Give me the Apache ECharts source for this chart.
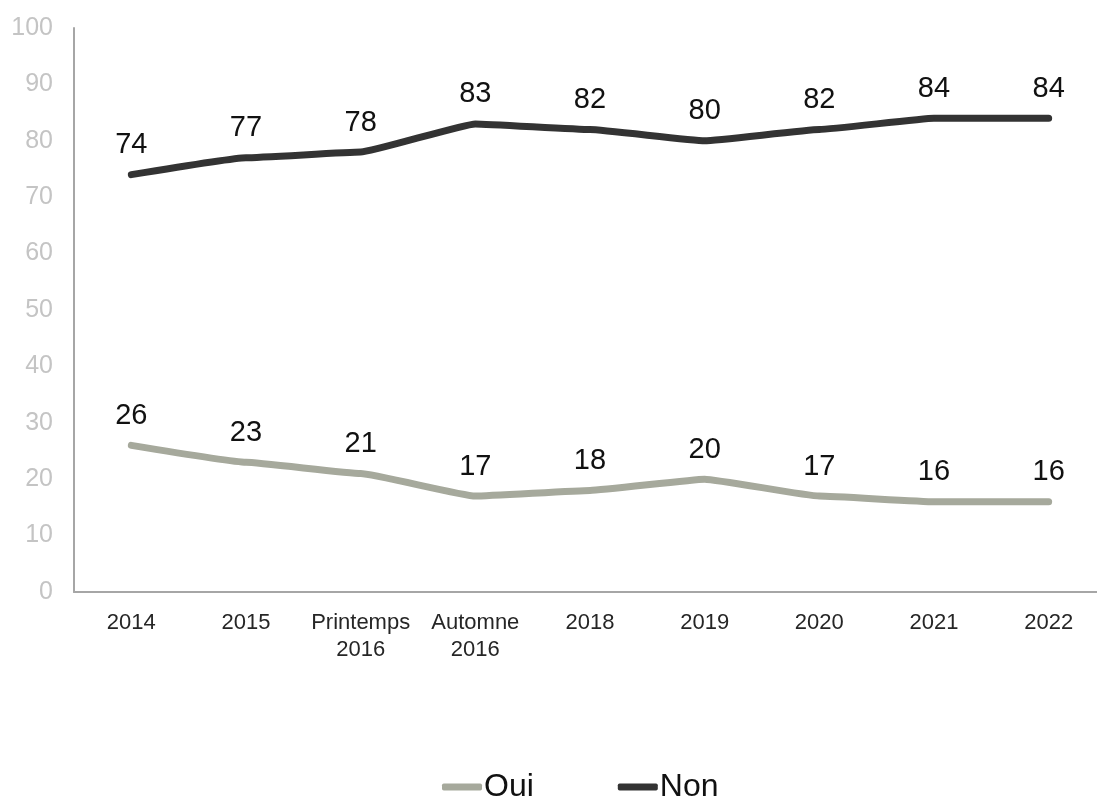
<!DOCTYPE html>
<html>
<head>
<meta charset="utf-8">
<script src="https://cdn.jsdelivr.net/npm/echarts@6/dist/echarts.min.js"></script>
<style>
  html, body { margin: 0; padding: 0; background: #ffffff; }
  #chart { width: 1097px; height: 798px; }
</style>
</head>
<body>
<div id="chart"></div>
<script>
// Survey waves on the x axis
const categories = ['2014', '2015', 'Printemps\n2016', 'Automne\n2016', '2018', '2019', '2020', '2021', '2022'];
// Share of answers (%)
const oui = [26, 23, 21, 17, 18, 20, 17, 16, 16];
const non = [74, 77, 78, 83, 82, 80, 82, 84, 84];
const yTicks = { min: 0, max: 100, interval: 10 };

const font = 'Liberation Sans, Arial, sans-serif';

function lineSeries(name, values, color) {
  return {
    name: name,
    type: 'line',
    data: values,
    symbol: 'circle',
    symbolSize: 2,
    showSymbol: true,
    itemStyle: { color: color },
    smooth: 0.1,
    smoothMonotone: 'x',
    lineStyle: { color: color, width: 7, cap: 'round', join: 'round' },
    label: {
      show: true,
      position: 'top',
      distance: 14,
      color: '#111111',
      fontFamily: font,
      fontSize: 29
    },
    emphasis: { disabled: true },
    animation: false
  };
}

const chart = echarts.init(document.getElementById('chart'), null, { renderer: 'canvas' });
chart.setOption({
  backgroundColor: '#ffffff',
  animation: false,
  grid: { left: 74, right: -9, top: 28, bottom: 206, outerBoundsMode: 'none', containLabel: false },
  legend: {
    bottom: -10,
    left: 437,
    itemGap: 84,
    itemWidth: 40,
    itemHeight: 7,
    icon: 'roundRect',
    textStyle: { fontFamily: font, fontSize: 32, color: '#111111', padding: [0, 0, 0, -3] },
    data: ['Oui', 'Non']
  },
  xAxis: {
    type: 'category',
    data: categories,
    boundaryGap: true,
    axisLine: { show: true, lineStyle: { color: '#a6a6a6', width: 2 } },
    axisTick: { show: false },
    axisLabel: {
      color: '#262626',
      fontFamily: font,
      fontSize: 22,
      lineHeight: 27,
      margin: 17,
      interval: 0
    },
    splitLine: { show: false }
  },
  yAxis: {
    type: 'value',
    min: yTicks.min,
    max: yTicks.max,
    interval: yTicks.interval,
    axisLine: { show: true, lineStyle: { color: '#a6a6a6', width: 2 } },
    axisTick: { show: false },
    axisLabel: {
      color: '#c4c4c4',
      fontFamily: font,
      fontSize: 25,
      margin: 21
    },
    splitLine: { show: false }
  },
  series: [
    lineSeries('Oui', oui, '#a6a99c'),
    lineSeries('Non', non, '#333333')
  ]
});
</script>
</body>
</html>
